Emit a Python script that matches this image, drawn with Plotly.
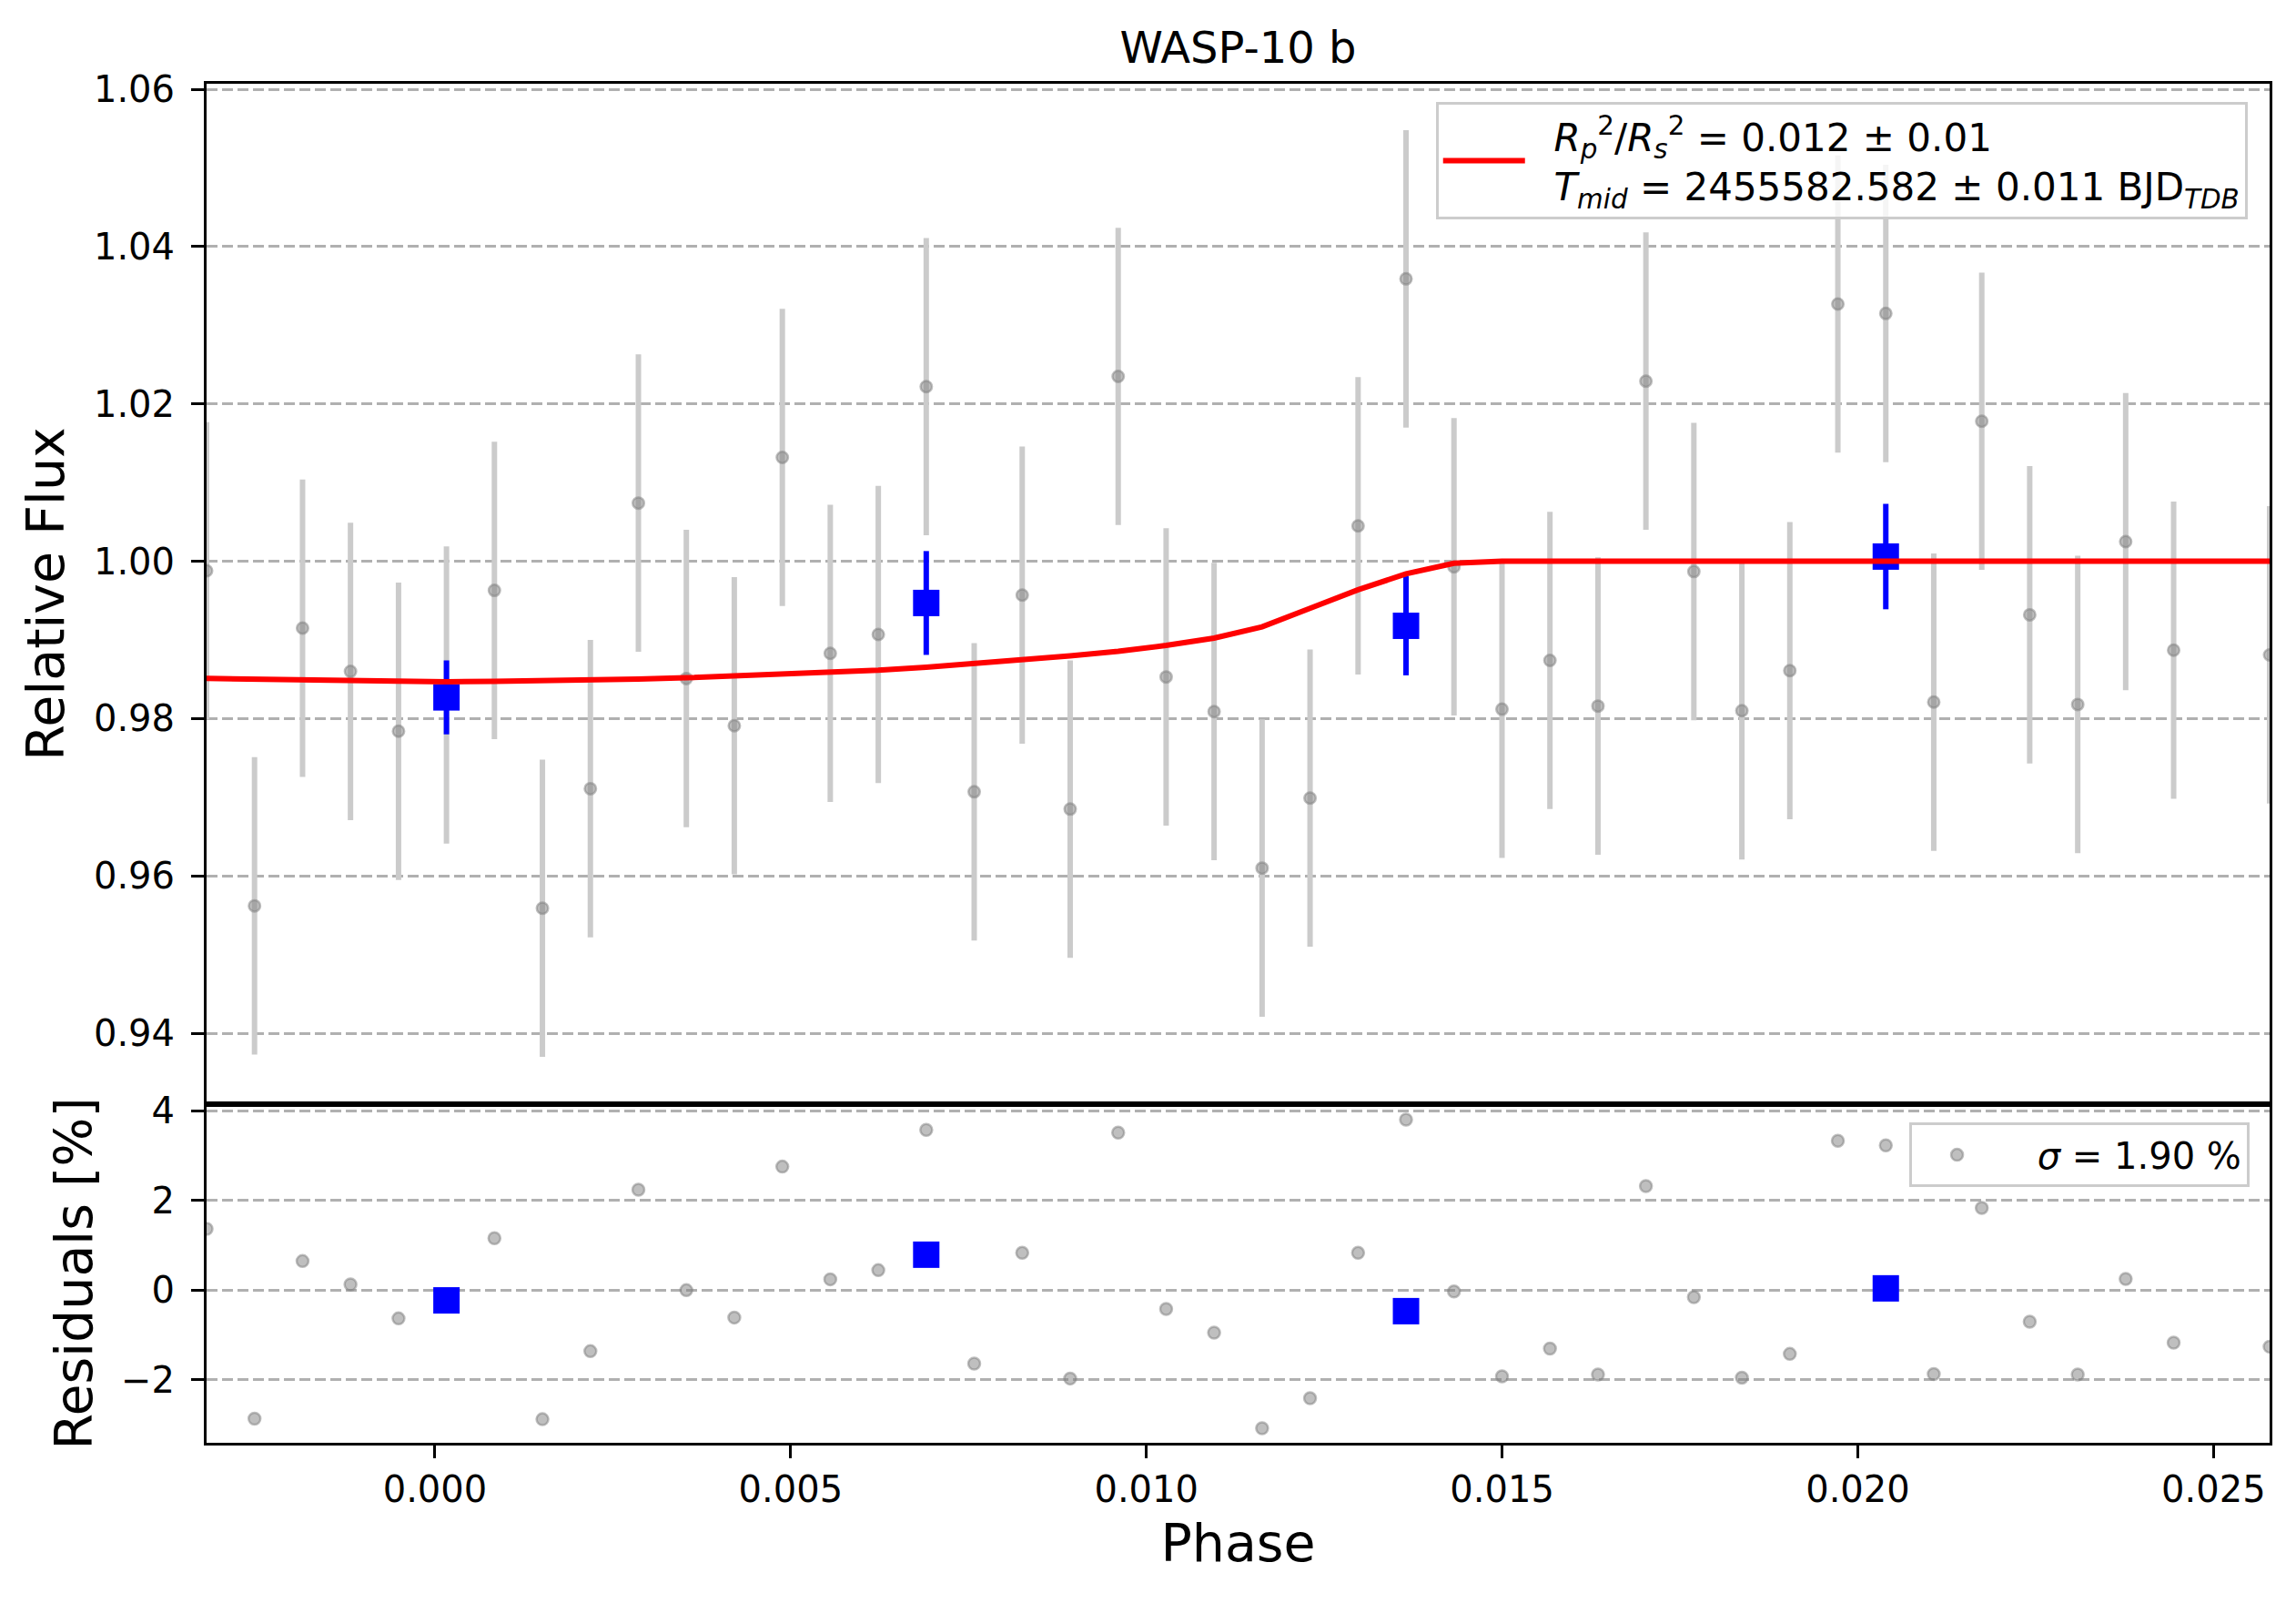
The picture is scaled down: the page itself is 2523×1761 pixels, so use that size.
import plotly.graph_objects as go

# ---------------- data ----------------
phase = [-0.003210, -0.002536, -0.001861, -0.001187, -0.000512, 0.000162,
         0.000836, 0.001511, 0.002185, 0.002860, 0.003534, 0.004208,
         0.004883, 0.005557, 0.006232, 0.006906, 0.007580, 0.008255,
         0.008929, 0.009604, 0.010278, 0.010952, 0.011627, 0.012301,
         0.012976, 0.013650, 0.014324, 0.014999, 0.015673, 0.016348,
         0.017022, 0.017696, 0.018371, 0.019045, 0.019720, 0.020394,
         0.021068, 0.021743, 0.022417, 0.023092, 0.023766, 0.024440,
         0.025789]

flux = [0.9988, 0.9562, 0.9915, 0.9860, 0.9784, 0.9830,
        0.9963, 0.9559, 0.9711, 1.0074, 0.9851, 0.9791,
        1.0132, 0.9883, 0.9907, 1.0222, 0.9707, 0.9957,
        0.9685, 1.0235, 0.9853, 0.9809, 0.9610, 0.9699,
        1.0045, 1.0359, 0.9993, 0.9812, 0.9874, 0.9816,
        1.0229, 0.9987, 0.9810, 0.9861, 1.0327, 1.0315,
        0.9821, 1.0178, 0.9932, 0.9818, 1.0025, 0.9887,
        0.9881]

flux_err = [0.0189, 0.0189, 0.0189, 0.0189, 0.0189, 0.0189,
            0.0189, 0.0189, 0.0189, 0.0189, 0.0189, 0.0189,
            0.0189, 0.0189, 0.0189, 0.0189, 0.0189, 0.0189,
            0.0189, 0.0189, 0.0189, 0.0189, 0.0189, 0.0189,
            0.0189, 0.0189, 0.0189, 0.0189, 0.0189, 0.0189,
            0.0189, 0.0189, 0.0189, 0.0189, 0.0189, 0.0189,
            0.0189, 0.0189, 0.0189, 0.0189, 0.0189, 0.0189,
            0.0189]

model = [0.98511, 0.98502, 0.98485, 0.98477, 0.98473, 0.98469,
         0.98473, 0.98477, 0.98490, 0.98502, 0.98519, 0.98544,
         0.98565, 0.98586, 0.98616, 0.98654, 0.98696, 0.98746,
         0.98797, 0.98856, 0.98931, 0.99024, 0.99167, 0.99403,
         0.99638, 0.99840, 0.99975, 1.00000, 1.00000, 1.00000,
         1.00000, 1.00000, 1.00000, 1.00000, 1.00000, 1.00000,
         1.00000, 1.00000, 1.00000, 1.00000, 1.00000, 1.00000,
         1.00000]

residuals = [1.366, -2.861, 0.649, 0.129, -0.629, -0.170,
             1.157, -2.875, -1.359, 2.239, 0.000, -0.609,
             2.753, 0.243, 0.446, 3.571, -1.637, 0.832,
             -1.968, 3.510, -0.419, -0.947, -3.077, -2.408,
             0.832, 3.801, -0.027, -1.921, -1.299, -1.880,
             2.320, -0.156, -1.948, -1.420, 3.328, 3.226,
             -1.867, 1.833, -0.703, -1.880, 0.250, -1.170,
             -1.258]

bin_phase = [0.000162, 0.006906, 0.013650, 0.020394]
bin_flux = [0.9827, 0.9947, 0.9918, 1.0006]
bin_err = [0.0047, 0.0066, 0.0063, 0.0067]
bin_resid = [-0.227, 0.791, -0.467, 0.041]

flux_ticks = [0.94, 0.96, 0.98, 1.00, 1.02, 1.04, 1.06]
resid_ticks = [-2, 0, 2, 4]
phase_ticks = [0.000, 0.005, 0.010, 0.015, 0.020, 0.025]

title_text = "WASP-10 b"
NB = "\u00a0"
fit_label = (NB * 2 + "<i>R</i><sub><i>p</i></sub><sup>2</sup>/<i>R</i><sub><i>s</i></sub><sup>2</sup>"
             " = 0.012 ± 0.01<br>" + NB * 2 + "<i>T</i><sub><i>mid</i></sub> = 2455582.582 ± 0.011 "
             "BJD<sub><i>TDB</i></sub>")
sigma_label = NB * 3 + "<i>σ</i> = 1.90 %"

# ---------------- figure ----------------
FONT = "DejaVu Sans"
GRAY_FILL = "rgba(128,128,128,0.5)"

fig = go.Figure()

fig.add_trace(go.Scatter(
    x=phase, y=flux, mode="markers", xaxis="x", yaxis="y",
    marker=dict(size=12.5, color=GRAY_FILL, line=dict(color=GRAY_FILL, width=2.5)),
    error_y=dict(type="data", array=flux_err, visible=True, color="#cbcbcb",
                 thickness=6, width=0),
    showlegend=False, hoverinfo="skip"))

fig.add_trace(go.Scatter(
    x=bin_phase, y=bin_flux, mode="markers", xaxis="x", yaxis="y",
    marker=dict(symbol="square", size=29, color="#0000ff", line=dict(width=0)),
    error_y=dict(type="data", array=bin_err, visible=True, color="#0000ff",
                 thickness=6, width=0),
    showlegend=False, hoverinfo="skip"))

fig.add_trace(go.Scatter(
    x=phase, y=model, mode="lines", xaxis="x", yaxis="y",
    line=dict(color="#ff0000", width=6),
    name=fit_label, legend="legend", showlegend=True, hoverinfo="skip"))

fig.add_trace(go.Scatter(
    x=phase, y=residuals, mode="markers", xaxis="x2", yaxis="y2",
    marker=dict(size=13, color=GRAY_FILL, line=dict(color=GRAY_FILL, width=2.5)),
    name=sigma_label, legend="legend2", showlegend=True, hoverinfo="skip"))

fig.add_trace(go.Scatter(
    x=bin_phase, y=bin_resid, mode="markers", xaxis="x2", yaxis="y2",
    marker=dict(symbol="square", size=29, color="#0000ff", line=dict(width=0)),
    showlegend=False, hoverinfo="skip"))

xr = [phase[0], phase[-1]]
split = 0.2492

axis_common = dict(showline=True, linecolor="black", linewidth=3, mirror=True,
                   zeroline=False, tickfont=dict(size=40, color="black", family=FONT),
                   ticks="outside", ticklen=14, tickwidth=3, tickcolor="black")

grid = dict(showgrid=True, gridcolor="#b0b0b0", gridwidth=3, griddash="12px,5px")

# the page body adds an 8 px offset, so the figure is 8 px smaller on each side
W, H = 2515, 1753

fig.update_layout(
    width=W, height=H,
    margin=dict(l=219, r=29, t=84, b=176, autoexpand=False),
    paper_bgcolor="white", plot_bgcolor="white",
    font=dict(family=FONT, color="black"),
    title=dict(text=title_text, x=0.5, xref="paper", xanchor="center",
               y=1 - 44 / H, yref="container", yanchor="middle",
               font=dict(size=48, color="black", family=FONT)),
    xaxis=dict(domain=[0, 1], anchor="y", range=xr, matches="x2",
               showticklabels=False, showline=True, linecolor="black",
               linewidth=3, mirror=True, zeroline=False, showgrid=False, ticks=""),
    yaxis=dict(domain=[split, 1], anchor="x", range=[0.931, 1.0607],
               tickvals=flux_ticks, tickformat=".2f", ticklabelstandoff=10,
               title=dict(text="Relative Flux", font=dict(size=57, family=FONT),
                          standoff=14),
               **axis_common, **grid),
    xaxis2=dict(domain=[0, 1], anchor="y2", range=xr,
                tickvals=phase_ticks, tickformat=".3f", showgrid=False,
                title=dict(text="Phase", font=dict(size=57, family=FONT), standoff=18),
                **axis_common),
    yaxis2=dict(domain=[0, split], anchor="x2", range=[-3.40, 4.146],
                tickvals=resid_ticks, tickformat="d", ticklabelstandoff=10,
                title=dict(text="Residuals [%]", font=dict(size=57, family=FONT),
                           standoff=14),
                **axis_common, **grid),
    legend=dict(x=0.9893, xanchor="right", y=0.9863, yanchor="top",
                bgcolor="rgba(255,255,255,0.8)", bordercolor="#cccccc",
                borderwidth=3, font=dict(size=42, family=FONT, color="black"),
                itemwidth=90, valign="middle"),
    legend2=dict(x=0.9901, xanchor="right", y=0.2357, yanchor="top",
                 bgcolor="rgba(255,255,255,0.8)", bordercolor="#cccccc",
                 borderwidth=3, font=dict(size=40, family=FONT, color="black"),
                 itemwidth=90, valign="middle"),
)

fig.write_html("out.html")
